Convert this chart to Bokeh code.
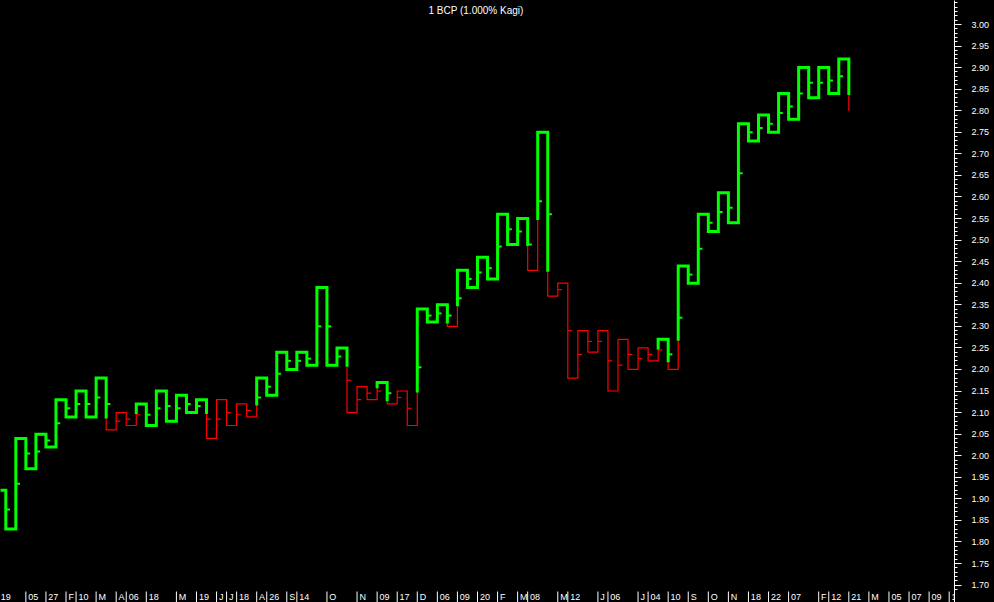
from bokeh.plotting import figure
from bokeh.models import Range1d, FixedTicker, PrintfTickFormatter, GlobalInlineStyleSheet
from bokeh.embed import file_html
from bokeh.resources import INLINE
from bokeh.core.properties import value

# ---------------- data ----------------
title_text = "1 BCP (1.000% Kagi)"

# Kagi turning levels, one per reversal column; the first column (-1) starts off-screen
first_col = -1
kagi_levels = [
    1.92, 1.83, 2.04, 1.97, 2.05, 2.02, 2.13, 2.09, 2.15, 2.09,
    2.18, 2.06, 2.10, 2.07, 2.12, 2.07, 2.15, 2.08, 2.14, 2.10,
    2.13, 2.04, 2.13, 2.07, 2.12, 2.09, 2.18, 2.14, 2.24, 2.20,
    2.24, 2.21, 2.39, 2.21, 2.25, 2.10, 2.16, 2.13, 2.17, 2.12,
    2.15, 2.07, 2.34, 2.31, 2.35, 2.30, 2.43, 2.39, 2.46, 2.41,
    2.56, 2.49, 2.55, 2.43, 2.75, 2.37, 2.40, 2.18, 2.29, 2.24,
    2.29, 2.15, 2.27, 2.20, 2.25, 2.22, 2.27, 2.20, 2.44, 2.40,
    2.56, 2.52, 2.61, 2.54, 2.77, 2.73, 2.79, 2.75, 2.84, 2.78,
    2.90, 2.83, 2.90, 2.84, 2.92, 2.80,
]

# date axis labels (column index -> label)
date_cols = [-1, 2, 4, 6, 7, 9, 11, 12, 14, 17, 19, 21, 22, 23, 25, 26, 28, 29,
             32, 35, 37, 39, 41, 43, 45, 47, 49, 51, 52, 55, 56, 59, 60, 63, 64,
             66, 68, 70, 72, 74, 76, 78, 81, 82, 84, 86, 88, 90, 92, 94]
date_labels = ["19", "05", "27", "F", "10", "M", "A", "06", "18", "M", "19", "J",
               "J", "18", "A", "26", "S", "14", "O", "N", "09", "17", "D", "06",
               "09", "20", "F", "M", "08", "M", "12", "J", "06", "J", "04", "10",
               "S", "O", "N", "18", "22", "07", "F", "12", "21", "M", "05", "07",
               "09", "1"]

y_major_ticks = [round(1.70 + 0.05 * i, 2) for i in range(27)]
y_minor_ticks = [round(1.69 + 0.01 * i, 2) for i in range(137)]

# ---------------- layout constants ----------------
W = 994
H = 602
STRIP_TOP_PX = 591      # top of the date strip (pixels from the top)
AXIS_W = 40
PX_PER_COL = 10.036
X0_PX = 5.3
PX_PER_PRICE = 431.2
PRICE_AT_24 = 3.00

x_start = -X0_PX / PX_PER_COL
x_end = x_start + (W - AXIS_W) / PX_PER_COL
y_end = PRICE_AT_24 + 24 / PX_PER_PRICE
y_start = y_end - H / PX_PER_PRICE
strip_top = y_end - STRIP_TOP_PX / PX_PER_PRICE
strip_mid = y_end - 596.5 / PX_PER_PRICE

GREEN = "#00FF00"
RED = "#FF0000"
FONT = "Liberation Sans"

# ---------------- Kagi construction ----------------
cols = list(range(first_col, first_col + len(kagi_levels)))
runs = []  # (thick, xs, ys)
thick = True
cur_x, cur_y = [cols[0]], [kagi_levels[0]]
tick_thick_x0, tick_thick_y = [], []
tick_thin_x0, tick_thin_y = [], []
for k in range(1, len(kagi_levels)):
    c = cols[k]
    a, b = kagi_levels[k - 1], kagi_levels[k]
    cur_x.append(c)
    cur_y.append(a)
    up = b > a
    change_at = None
    if k >= 2:
        thr = kagi_levels[k - 2]
        if up and not thick and b > thr:
            change_at = thr
        if (not up) and thick and b < thr:
            change_at = thr
    if k < len(kagi_levels) - 1:
        mid = (a + b) / 2
        mthick = thick
        if change_at is not None:
            if (up and mid > change_at) or ((not up) and mid < change_at):
                mthick = not thick
        if mthick:
            tick_thick_x0.append(c)
            tick_thick_y.append(mid)
        else:
            tick_thin_x0.append(c)
            tick_thin_y.append(mid)
    if change_at is not None:
        cur_x.append(c)
        cur_y.append(change_at)
        runs.append((thick, cur_x, cur_y))
        thick = not thick
        cur_x, cur_y = [c], [change_at]
    cur_x.append(c)
    cur_y.append(b)
runs.append((thick, cur_x, cur_y))

thick_xs = [r[1] for r in runs if r[0]]
thick_ys = [r[2] for r in runs if r[0]]
thin_xs = [r[1] for r in runs if not r[0]]
thin_ys = [r[2] for r in runs if not r[0]]

TICK_LEN = 0.42

# ---------------- figure ----------------
p = figure(width=W, height=H, output_backend="svg", toolbar_location=None,
           x_range=Range1d(x_start, x_end), y_range=Range1d(y_start, y_end),
           x_axis_location=None, y_axis_location="right",
           background_fill_color="black", border_fill_color="black",
           outline_line_color=None, min_border_left=0, min_border_top=0,
           min_border_bottom=0, min_border_right=AXIS_W)
p.grid.visible = False

p.multi_line(thin_xs, thin_ys, line_color=RED, line_width=1.2, line_join="miter")
p.segment(x0=tick_thin_x0, y0=tick_thin_y, x1=[x + TICK_LEN for x in tick_thin_x0],
          y1=tick_thin_y, line_color=RED, line_width=1.2)
p.multi_line(thick_xs, thick_ys, line_color=GREEN, line_width=3, line_join="miter",
             line_cap="square")
p.segment(x0=tick_thick_x0, y0=tick_thick_y, x1=[x + TICK_LEN for x in tick_thick_x0],
          y1=tick_thick_y, line_color=GREEN, line_width=2)

p.text(x=[x_start + 475.5 / PX_PER_COL], y=[y_end - 9.5 / PX_PER_PRICE], text=[title_text],
       text_color="white", text_font=value(FONT), text_font_size="10px",
       text_align="center", text_baseline="middle")

# date strip at the bottom
label_x = [max(c + 0.24, x_start + 0.03) for c in date_cols]
p.segment(x0=date_cols, y0=[strip_top] * len(date_cols), x1=date_cols,
          y1=[y_start] * len(date_cols), line_color="white", line_width=1)
p.text(x=label_x, y=[strip_mid] * len(date_cols), text=date_labels,
       text_color="white", text_font=value(FONT), text_font_size="9px",
       text_align="left", text_baseline="middle")

ax = p.yaxis[0]
ax.ticker = FixedTicker(ticks=y_major_ticks, minor_ticks=y_minor_ticks)
ax.formatter = PrintfTickFormatter(format="%.2f")
ax.axis_line_color = "white"
ax.major_tick_line_color = "white"
ax.minor_tick_line_color = "white"
ax.major_tick_in = 0
ax.minor_tick_in = 0
ax.major_tick_out = 7
ax.minor_tick_out = 3
ax.major_label_standoff = 10
ax.major_label_text_color = "white"
ax.major_label_text_font = FONT
ax.major_label_text_font_size = "9px"

p.stylesheets = [GlobalInlineStyleSheet(css="html,body{margin:0;padding:0;background:#000;overflow:hidden}")]

open("out.html", "w").write(file_html(p, INLINE))
